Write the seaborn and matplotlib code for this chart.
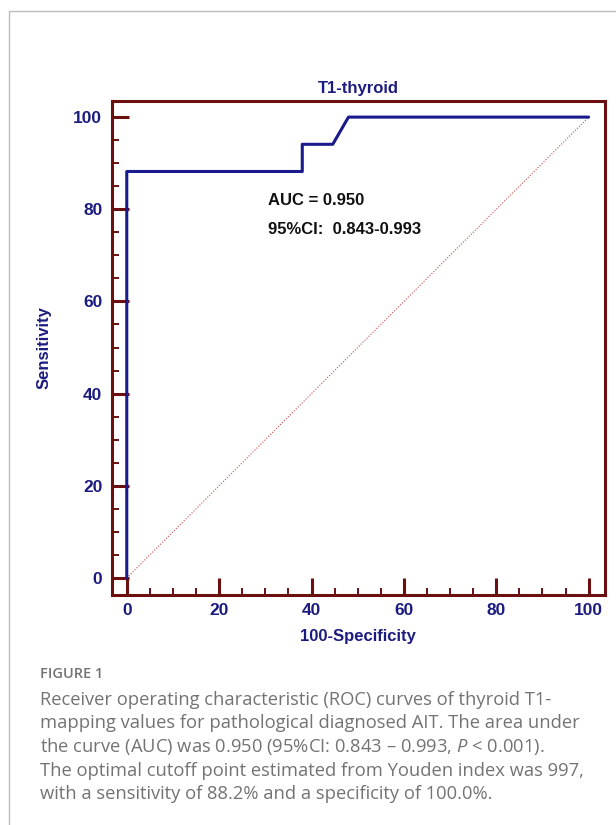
import numpy as np
import pandas as pd
import seaborn as sns
import matplotlib.pyplot as plt
from matplotlib.lines import Line2D
from matplotlib.ticker import MultipleLocator

# ROC curve (100-specificity vs sensitivity, %)
fpr = [0, 0, 38, 38, 44.6, 48, 100]
tpr = [0, 88.2, 88.2, 94.1, 94.1, 100, 100]
ref_line = [0, 100]
major_ticks = [0, 20, 40, 60, 80, 100]

auc_text = 'AUC = 0.950'
ci_text = '95%CI:  0.843-0.993'
caption_lines = [
    'Receiver operating characteristic (ROC) curves of thyroid T1-',
    'mapping values for pathological diagnosed AIT. The area under',
    'the curve (AUC) was 0.950 (95%CI: 0.843 \u2013 0.993, $\\it{P}$ < 0.001).',
    'The optimal cutoff point estimated from Youden index was 997,',
    'with a sensitivity of 88.2% and a specificity of 100.0%.',
]

SPINE = '#6b0f0f'
NAVY = '#1c1c80'
GREY = '#737373'


def main():
    sns.set_style('white')
    plt.rcParams['font.family'] = ['Liberation Sans', 'DejaVu Sans']
    plt.rcParams['mathtext.fontset'] = 'custom'
    plt.rcParams['mathtext.it'] = 'Open Sans:italic'

    fig = plt.figure(figsize=(6.16, 8.25), dpi=100)
    ax = fig.add_axes([0.1818, 0.2788, 0.800, 0.5988])

    roc = pd.DataFrame({'fpr': fpr, 'tpr': tpr})
    diag = pd.DataFrame({'x': ref_line, 'y': ref_line})
    sns.lineplot(data=diag, x='x', y='y', ax=ax, color='#c0504d',
                 lw=0.8, ls=(0, (1, 1.5)), sort=False, estimator=None)
    sns.lineplot(data=roc, x='fpr', y='tpr', ax=ax, color='#1a1a8c',
                 lw=2.2, sort=False, estimator=None)

    ax.set_xlim(-3.2, 103.5)
    ax.set_ylim(-3.7, 103.5)
    ax.set_xticks(major_ticks)
    ax.set_yticks(major_ticks)
    ax.xaxis.set_minor_locator(MultipleLocator(5))
    ax.yaxis.set_minor_locator(MultipleLocator(5))
    ax.tick_params(which='major', direction='in', length=12, width=2.2,
                   color=SPINE, labelcolor=NAVY, labelsize=12.5,
                   bottom=True, left=True, top=False, right=False)
    ax.tick_params(which='minor', direction='in', length=5, width=1.4,
                   color=SPINE, bottom=True, left=True, top=False, right=False)
    ax.tick_params(axis='x', which='major', pad=6)
    ax.tick_params(axis='y', which='major', pad=7)
    for lab in ax.get_xticklabels() + ax.get_yticklabels():
        lab.set_fontweight('bold')
    for sp in ax.spines.values():
        sp.set_color(SPINE)
        sp.set_linewidth(2.2)

    ax.set_title('T1-thyroid', color=NAVY, fontsize=12, fontweight='bold', pad=6)
    ax.set_xlabel('100-Specificity', color=NAVY, fontsize=12,
                  fontweight='bold', labelpad=8)
    ax.set_ylabel('Sensitivity', color=NAVY, fontsize=12,
                  fontweight='bold', labelpad=16)

    ax.text(30.5, 81.8, auc_text, fontsize=12, fontweight='bold',
            color='#111111', va='center')
    ax.text(30.5, 75.7, ci_text, fontsize=12, fontweight='bold',
            color='#111111', va='center')

    # light grey page frame (top and left edges)
    fig.add_artist(Line2D([9 / 616, 1], [1 - 11 / 825] * 2,
                          transform=fig.transFigure, color='#bdbdbd', lw=1))
    fig.add_artist(Line2D([9 / 616] * 2, [0, 1 - 11 / 825],
                          transform=fig.transFigure, color='#bdbdbd', lw=1))

    fig.text(40 / 616, 1 - 678 / 825, 'FIGURE 1', fontsize=10.5,
             family='Open Sans', fontweight='semibold', color=GREY,
             va='baseline')
    baselines = [705, 728.5, 752, 776, 799]
    for line, yb in zip(caption_lines, baselines):
        fig.text(40 / 616, 1 - yb / 825, line, fontsize=13.2,
                 family='Open Sans', color=GREY, va='baseline')

    plt.savefig('out.png', dpi=100)
    plt.close()


main()
